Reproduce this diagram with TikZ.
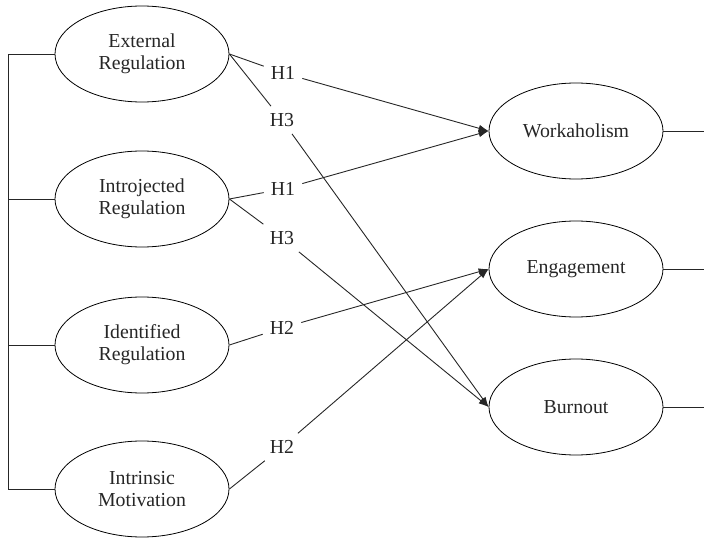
\documentclass[tikz,border=0pt]{standalone}
\usepackage{fontspec}
\setmainfont{Liberation Serif}
\usetikzlibrary{shapes.geometric,arrows.meta}
\begin{document}
\begin{tikzpicture}[x=1pt,y=-1pt,
  every node/.style={font=\fontsize{19.8}{22}\selectfont, text=black!85},
  construct/.style={ellipse, draw, line width=0.8pt, minimum width=174pt, minimum height=96pt, inner sep=0pt, align=center},
  hyp/.style={inner sep=7pt},
  link/.style={line width=0.9pt, draw=black!85},
  arr/.style={link, -{Latex[length=10pt,width=7pt]}}
]
\useasboundingbox (0,0) rectangle (704,540);
% constructs
\node[construct] (ext) at (142,54) {External\\Regulation};
\node[construct] (intro) at (142,199) {Introjected\\Regulation};
\node[construct] (ident) at (142,345) {Identified\\Regulation};
\node[construct] (intr) at (142,489) {Intrinsic\\Motivation};
\node[construct] (work) at (576,131) {Workaholism};
\node[construct] (eng) at (576,269) {Engagement};
\node[construct] (burn) at (576,407) {Burnout};
% hypothesis labels
\node[hyp] (h1a) at (283,73) {H1};
\node[hyp] (h3a) at (282,120) {H3};
\node[hyp] (h1b) at (283,189) {H1};
\node[hyp] (h3b) at (282,238) {H3};
\node[hyp] (h2a) at (282,328) {H2};
\node[hyp] (h2b) at (282,447) {H2};
% helper coordinates
\coordinate (barx) at (8,0);
\coordinate (rightx) at (704,0);
% left bracket
\draw[link] (ext.west) -- (ext.west -| barx) -- (intr.west -| barx) -- (intr.west);
\draw[link] (intro.west) -- (intro.west -| barx);
\draw[link] (ident.west) -- (ident.west -| barx);
% right stubs
\draw[link] (work.east) -- (work.east -| rightx);
\draw[link] (eng.east) -- (eng.east -| rightx);
\draw[link] (burn.east) -- (burn.east -| rightx);
% paths
\draw[link] (ext.east) -- (h1a);
\draw[arr] (h1a) -- (work.west);
\draw[link] (ext.east) -- (h3a);
\draw[arr] (h3a) -- (burn.west);
\draw[link] (intro.east) -- (h1b);
\draw[arr] (h1b) -- (work.west);
\draw[link] (intro.east) -- (h3b);
\draw[arr] (h3b) -- (burn.west);
\draw[link] (ident.east) -- (h2a);
\draw[arr] (h2a) -- (eng.west);
\draw[link] (intr.east) -- (h2b);
\draw[arr] (h2b) -- (eng.west);
\end{tikzpicture}
\end{document}
